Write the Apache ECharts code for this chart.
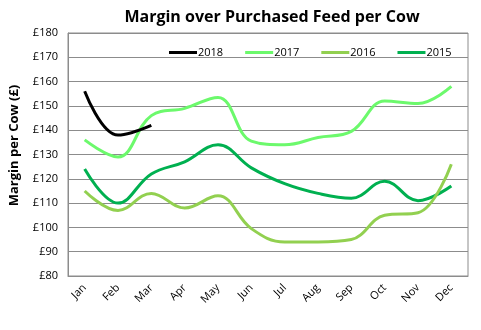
<!DOCTYPE html>
<html>
<head>
<meta charset="utf-8">
<script src="https://cdn.jsdelivr.net/npm/echarts@6/dist/echarts.min.js"></script>
<style>
  html, body { margin: 0; padding: 0; background: #fff; }
  #chart { width: 481px; height: 330px; }
</style>
</head>
<body>
<div id="chart"></div>
<script>
// Monthly margin over purchased feed per cow (£)
const months = ['Jan', 'Feb', 'Mar', 'Apr', 'May', 'Jun', 'Jul', 'Aug', 'Sep', 'Oct', 'Nov', 'Dec'];
const years = ['2018', '2017', '2016', '2015'];
const margin2018 = [156, 138, 142];
const margin2017 = [136, 129, 146, 149, 153.5, 135.5, 134, 137, 139.5, 152, 151, 158];
const margin2016 = [115, 107, 114, 108, 113, 99.5, 94, 94, 95, 105, 106, 126];
const margin2015 = [124, 110, 122, 127, 134, 124.5, 118, 114, 112, 119, 111, 117];
const yTicks = { min: 80, max: 180, step: 10 };

const colours = ['#000000', '#6CF96C', '#92D050', '#00B050'];
const seriesData = [margin2018, margin2017, margin2016, margin2015];

const font = '"Open Sans", "DejaVu Sans", sans-serif';

const chart = echarts.init(document.getElementById('chart'), null, { renderer: 'canvas' });
chart.setOption({
  animation: false,
  backgroundColor: '#ffffff',
  title: {
    text: 'Margin over Purchased Feed per Cow',
    left: 267,
    textAlign: 'center',
    top: 4,
    textStyle: { fontFamily: font, fontSize: 16, fontWeight: 'bold', color: '#000' }
  },
  legend: {
    data: years,
    top: 42,
    left: 164,
    itemWidth: 28,
    itemHeight: 3,
    itemGap: 22,
    icon: 'rect',
    textStyle: { fontFamily: font, fontSize: 11, color: '#000', padding: [0, 0, 0, -4] }
  },
  grid: {
    left: 67, right: 13, top: 33, bottom: 54,
    show: true, borderColor: '#8c8c8c', borderWidth: 1
  },
  xAxis: {
    type: 'category',
    data: months,
    boundaryGap: true,
    axisLine: { lineStyle: { color: '#8c8c8c' } },
    axisTick: { show: false },
    axisLabel: { rotate: 45, margin: 10, fontFamily: font, fontSize: 11, color: '#000' }
  },
  yAxis: {
    type: 'value',
    min: yTicks.min, max: yTicks.max, interval: yTicks.step,
    name: 'Margin per Cow (£)',
    nameLocation: 'middle',
    nameGap: 47,
    nameTextStyle: { fontFamily: font, fontSize: 13, fontWeight: 'bold', color: '#000', padding: [0, 0, 0, 18] },
    axisLine: { show: true, lineStyle: { color: '#8c8c8c' } },
    axisTick: { show: false },
    splitLine: { lineStyle: { color: '#8c8c8c', width: 1 } },
    axisLabel: { fontFamily: font, fontSize: 11, color: '#000', margin: 10, formatter: v => '£' + v }
  },
  series: years.map((y, i) => ({
    name: y,
    type: 'line',
    data: seriesData[i],
    smooth: 0.4,
    showSymbol: false,
    symbol: 'none',
    lineStyle: { width: 3, color: colours[i] },
    itemStyle: { color: colours[i] },
    z: 10 - i
  }))
});
</script>
</body>
</html>
